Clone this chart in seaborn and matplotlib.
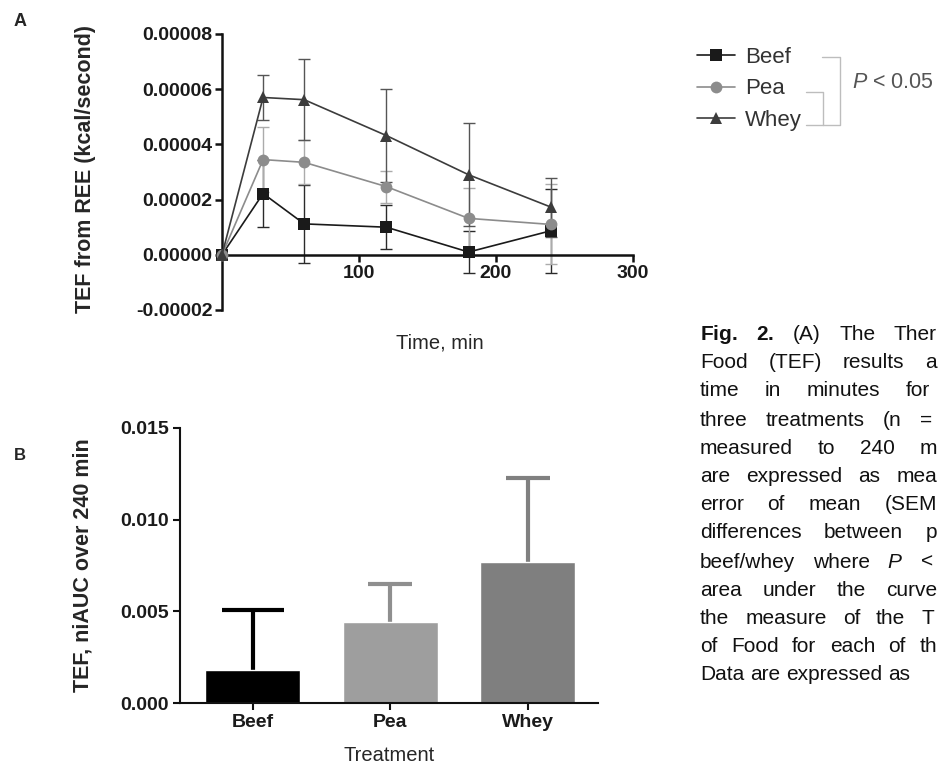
"""
plot.py

TEF over time (line chart) and niAUC per treatment (bar chart),
two-panel figure with legend and caption text.
"""

import matplotlib
matplotlib.use("Agg")
import matplotlib.pyplot as plt
import pandas as pd
import seaborn as sns
from matplotlib.lines import Line2D

# ---- data -------------------------------------------------------------
times = [0, 30, 60, 120, 180, 240]
treatments = ["Beef", "Pea", "Whey"]

beef_tef = [0, 0.0000222, 0.0000112, 0.0000100, 0.0000010, 0.0000087]
beef_sem = [0, 0.0000120, 0.0000140, 0.0000080, 0.0000076, 0.0000152]
pea_tef = [0, 0.0000345, 0.0000335, 0.0000247, 0.0000132, 0.0000110]
pea_sem = [0, 0.0000117, 0.0000080, 0.0000058, 0.0000110, 0.0000145]
whey_tef = [0, 0.0000570, 0.0000562, 0.0000432, 0.0000290, 0.0000173]
whey_sem = [0, 0.0000082, 0.0000146, 0.0000168, 0.0000186, 0.0000107]

auc_mean = [0.0018, 0.0044, 0.0077]
auc_sem = [0.0033, 0.0021, 0.0046]

line_yticks = [-0.00002, 0.0, 0.00002, 0.00004, 0.00006, 0.00008]
line_xticks = [100, 200, 300]
bar_yticks = [0.0, 0.005, 0.010, 0.015]

caption_lines = [
    ("$\\bf{Fig.}$ $\\bf{2.}$ (A) The Ther", 334, 937),
    ("Food (TEF) results a", 362, 937),
    ("time in minutes for", 391, 930),
    ("three treatments (n =", 420, 932),
    ("measured to 240 m", 448, 937),
    ("are expressed as mea", 477, 937),
    ("error of mean (SEM", 505, 937),
    ("differences between p", 533, 937),
    ("beef/whey where $\\it{P}$ <", 562, 933),
    ("area under the curve", 590, 937),
    ("the measure of the T", 618, 934),
    ("of Food for each of th", 647, 937),
    ("Data are expressed as", 675, None),
]

# ---- styling ------------------------------------------------------------
W, H = 942, 765
sns.set_style("ticks")
plt.rcParams["font.family"] = ["Liberation Sans", "DejaVu Sans"]
plt.rcParams["mathtext.fontset"] = "custom"
plt.rcParams["mathtext.rm"] = "Liberation Sans"
plt.rcParams["mathtext.it"] = "Liberation Sans:italic"
plt.rcParams["mathtext.bf"] = "Liberation Sans:bold"

line_colors = {"Beef": "#1a1a1a", "Pea": "#8c8c8c", "Whey": "#3c3c3c"}
err_colors = {"Beef": "#2a2a2a", "Pea": "#ababab", "Whey": "#555555"}
bar_colors = ["#000000", "#9e9e9e", "#7f7f7f"]
bar_err_colors = ["#000000", "#8f8f8f", "#808080"]


def fx(x):
    return x / W


def fy(y):
    return 1 - y / H


fig = plt.figure(figsize=(W / 100, H / 100), dpi=100)

# ---- panel A: TEF over time --------------------------------------------
ax1 = fig.add_axes([fx(222), fy(310), (633 - 222) / W, (310 - 34) / H])

df_line = pd.DataFrame({
    "time": times * 3,
    "tef": beef_tef + pea_tef + whey_tef,
    "sem": beef_sem + pea_sem + whey_sem,
    "treatment": ["Beef"] * 6 + ["Pea"] * 6 + ["Whey"] * 6,
})

for name in treatments:
    sub = df_line[df_line["treatment"] == name]
    ax1.errorbar(sub["time"], sub["tef"], yerr=sub["sem"], fmt="none",
                 ecolor=err_colors[name], elinewidth=1.0, capsize=4,
                 capthick=1.0, clip_on=False, zorder=2)

sns.lineplot(data=df_line, x="time", y="tef", hue="treatment",
             style="treatment", markers={"Beef": "s", "Pea": "o", "Whey": "^"},
             dashes=False, palette=line_colors, errorbar=None,
             markersize=8.5, linewidth=1.2, markeredgewidth=0,
             clip_on=False, zorder=3, ax=ax1)

ax1.set_xlim(0, 300)
ax1.set_ylim(-0.00002, 0.00008)
ax1.set_xticks(line_xticks)
ax1.set_yticks(line_yticks)
ax1.set_yticklabels([f"{v:.5f}" for v in line_yticks])
ax1.spines["bottom"].set_position(("data", 0))
ax1.spines[["top", "right"]].set_visible(False)
for s in ["left", "bottom"]:
    ax1.spines[s].set_linewidth(1.8)
    ax1.spines[s].set_color("#111111")
ax1.tick_params(length=5, width=1.8, color="#111111", labelsize=14,
                labelcolor="#1a1a1a", pad=2)
for lab in ax1.get_xticklabels() + ax1.get_yticklabels():
    lab.set_fontweight("bold")

ax1.set_ylabel("TEF from REE (kcal/second)", fontsize=15.5, fontweight="bold")
ax1.yaxis.label.set_va("center")
ax1.yaxis.set_label_coords(-0.333, 0.51)
ax1.set_xlabel("Time, min", fontsize=14.5)
ax1.xaxis.label.set_va("center")
ax1.xaxis.set_label_coords(0.53, -0.12)

sns.move_legend(ax1, loc="upper left", bbox_to_anchor=(fx(697), fy(47)),
                bbox_transform=fig.transFigure, title=None, frameon=False,
                fontsize=16, labelcolor="#333333", handlelength=1.7,
                handletextpad=0.45, labelspacing=0.47, borderpad=0,
                borderaxespad=0)

fig.text(fx(852), fy(83), "$\\it{P}$ < 0.05", fontsize=15.5, color="#555555",
         va="center", ha="left")
bracket = "#bdbdbd"
fig.add_artist(Line2D([fx(822), fx(840), fx(840), fx(806)],
                      [fy(57), fy(57), fy(125), fy(125)],
                      transform=fig.transFigure, color=bracket, lw=1.0))
fig.add_artist(Line2D([fx(806), fx(823), fx(823)],
                      [fy(92), fy(92), fy(125)],
                      transform=fig.transFigure, color=bracket, lw=1.0))

# ---- panel B: niAUC per treatment --------------------------------------
ax2 = fig.add_axes([fx(180), fy(703), (598 - 180) / W, (703 - 428) / H])

df_auc = pd.DataFrame({"treatment": treatments, "niauc": auc_mean,
                       "sem": auc_sem})

# error bars go behind the bars, so only the upper half shows
caps = [22, 16, 16]
for i, row in df_auc.iterrows():
    ax2.errorbar(i, row["niauc"], yerr=[[row["niauc"]], [row["sem"]]],
                 fmt="none", ecolor=bar_err_colors[i], elinewidth=3,
                 capsize=caps[i], capthick=3, zorder=2)

sns.barplot(data=df_auc, x="treatment", y="niauc", hue="treatment",
            palette=bar_colors, saturation=1, width=0.69, errorbar=None,
            legend=False, ax=ax2, zorder=3)

ax2.set_xlim(-0.53, 2.51)
ax2.set_ylim(0, 0.015)
ax2.set_yticks(bar_yticks)
ax2.set_yticklabels([f"{v:.3f}" for v in bar_yticks])
ax2.spines[["top", "right"]].set_visible(False)
for s in ["left", "bottom"]:
    ax2.spines[s].set_linewidth(1.5)
    ax2.spines[s].set_color("#111111")
    ax2.spines[s].set_zorder(4)
ax2.tick_params(length=5, width=1.5, color="#111111", labelsize=14,
                labelcolor="#1a1a1a", pad=3)
for lab in ax2.get_xticklabels() + ax2.get_yticklabels():
    lab.set_fontweight("bold")

ax2.set_ylabel("TEF, niAUC over 240 min", fontsize=15.5, fontweight="bold")
ax2.yaxis.label.set_va("center")
ax2.yaxis.set_label_coords(-0.232, 0.5)
ax2.set_xlabel("Treatment", fontsize=14.5)
ax2.xaxis.label.set_va("center")
ax2.xaxis.set_label_coords(0.5, -0.19)

# ---- panel letters and caption ------------------------------------------
fig.text(fx(20), fy(22), "A", fontsize=13, fontweight="bold",
         ha="center", va="center")
fig.text(fx(20), fy(455), "B", fontsize=12, fontweight="bold",
         ha="center", va="center")

renderer = fig.canvas.get_renderer()
x0 = 700
for line, y, right in caption_lines:
    words = line.split(" ")
    texts = [fig.text(fx(x0), fy(y), w, fontsize=15, color="#111111",
                      ha="left", va="center") for w in words]
    widths = [t.get_window_extent(renderer).width for t in texts]
    if right is None:
        gap = 15 * 0.278 * 100 / 72
    else:
        gap = (right - x0 - sum(widths)) / max(len(words) - 1, 1)
    x = x0
    for t, w in zip(texts, widths):
        t.set_x(fx(x))
        x += w + gap

fig.savefig("out.png", dpi=100)
